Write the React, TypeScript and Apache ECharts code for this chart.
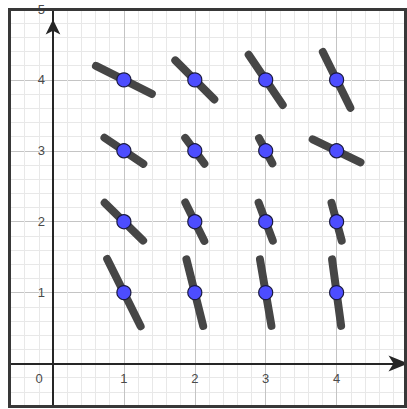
import React, { useEffect, useRef } from "react";
import * as echarts from "echarts";

// Points of the field (grid positions)
const pointX = [1, 2, 3, 4, 1, 2, 3, 4, 1, 2, 3, 4, 1, 2, 3, 4];
const pointY = [1, 1, 1, 1, 2, 2, 2, 2, 3, 3, 3, 3, 4, 4, 4, 4];
// Half-vector of each direction segment (towards its lower-right end)
const halfDx = [0.236, 0.118, 0.081, 0.064, 0.271, 0.134, 0.1, 0.072, 0.274, 0.135, 0.094, 0.337, 0.394, 0.275, 0.24, 0.194];
const halfDy = [-0.474, -0.47, -0.469, -0.469, -0.266, -0.271, -0.268, -0.267, -0.184, -0.182, -0.178, -0.162, -0.197, -0.275, -0.354, -0.394];

const axisMin = -0.6;
const axisMax = 5;
const gridStep = 0.2;

const minorColor = "#e8e8e8";
const majorColor = "#c4c4c4";

export default function App() {
  const ref = useRef<HTMLDivElement>(null);

  useEffect(() => {
    if (!ref.current) return;
    const chart = echarts.init(ref.current, null, { renderer: "svg" });

    const segData = pointX.map((x, i) => [x, pointY[i], halfDx[i], halfDy[i]]);
    const ptData = pointX.map((x, i) => [x, pointY[i]]);

    const intLabel = (v: number) => {
      const r = Math.round(v);
      if (Math.abs(v - r) > 1e-6 || r === 0) return "";
      return String(r);
    };

    const unit = 70.9;
    const originX = 53;
    const originY = 363.5;
    const left = originX + axisMin * unit;
    const top = originY - axisMax * unit;
    const size = (axisMax - axisMin) * unit;
    // shift the axes from the grid edges onto the origin
    const shift = -(-axisMin * unit);

    const axisCommon = {
      type: "value",
      min: axisMin,
      max: axisMax,
      interval: gridStep,
      axisTick: { show: false },
      splitLine: {
        show: true,
        lineStyle: {
          color: [minorColor, minorColor, minorColor, majorColor, minorColor],
          width: 1,
        },
      },
      axisLabel: {
        interval: 0,
        formatter: intLabel,
        color: "#4a4a4a",
        fontSize: 13,
        fontFamily: "Liberation Sans, Arial, sans-serif",
        margin: 8,
        showMaxLabel: true,
        showMinLabel: true,
        hideOverlap: false,
      },
    };

    chart.setOption({
      animation: false,
      backgroundColor: "#ffffff",
      grid: {
        left,
        top,
        width: size,
        height: size,
        containLabel: false,
        outerBoundsMode: "none",
      },
      xAxis: {
        ...axisCommon,
        position: "bottom",
        offset: shift,
        axisLine: {
          show: true,
          onZero: false,
          lineStyle: { color: "#262626", width: 2 },
          symbol: ["none", "arrow"],
          symbolSize: [12, 20],
          symbolOffset: [0, 1],
        },
      },
      yAxis: {
        ...axisCommon,
        position: "left",
        offset: shift,
        axisLine: {
          show: true,
          onZero: false,
          lineStyle: { color: "#262626", width: 2 },
          symbol: ["none", "arrow"],
          symbolSize: [11, 15],
          symbolOffset: [0, -10.5],
        },
      },
      graphic: [
        {
          type: "rect",
          shape: { x: 9.5, y: 9.5, width: 396, height: 397 },
          style: { fill: "none", stroke: "#383838", lineWidth: 3 },
          z: 100,
        },
        {
          type: "text",
          x: 39,
          y: 378,
          style: {
            text: "0",
            fill: "#4a4a4a",
            font: "13px Liberation Sans, Arial, sans-serif",
            align: "center",
            verticalAlign: "middle",
          },
          z: 100,
        },
      ],
      series: [
        {
          type: "custom",
          data: segData,
          z: 5,
          renderItem: (_params: any, api: any) => {
            const x = api.value(0);
            const y = api.value(1);
            const dx = api.value(2);
            const dy = api.value(3);
            const p1 = api.coord([x - dx, y - dy]);
            const p2 = api.coord([x + dx, y + dy]);
            return {
              type: "line",
              shape: { x1: p1[0], y1: p1[1], x2: p2[0], y2: p2[1] },
              style: { stroke: "#464646", lineWidth: 8, lineCap: "round" },
            };
          },
        },
        {
          type: "scatter",
          data: ptData,
          z: 10,
          symbol: "circle",
          symbolSize: 14,
          itemStyle: { color: "#4d4dff", borderColor: "#1a1a40", borderWidth: 1.2, opacity: 1 },
        },
      ],
    });

    return () => chart.dispose();
  }, []);

  return (
    <div
      ref={ref}
      style={{ position: "fixed", left: 0, top: 0, width: 407, height: 409, background: "#fff" }}
    />
  );
}
